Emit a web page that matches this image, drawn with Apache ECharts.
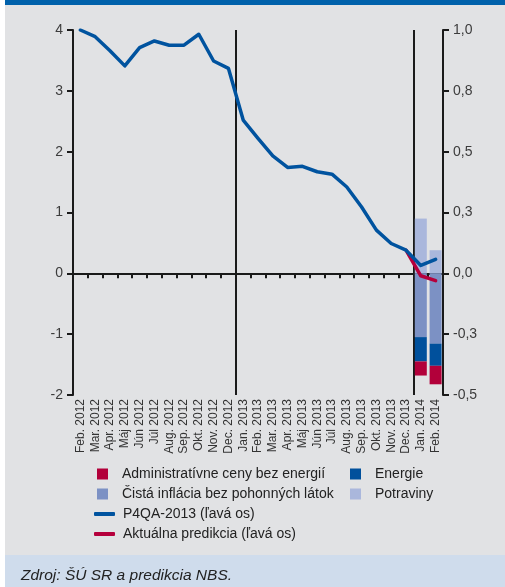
<!DOCTYPE html>
<html>
<head>
<meta charset="utf-8">
<script src="https://cdn.jsdelivr.net/npm/echarts@6/dist/echarts.min.js"></script>
<style>
html,body{margin:0;padding:0;background:#fff;}
#c{width:505px;height:587px;}
</style>
</head>
<body>
<div id="c"></div>
<script>
// ---- data ----
var categories = ['Feb. 2012','Mar. 2012','Apr. 2012','Máj 2012','Jún 2012','Júl 2012','Aug. 2012','Sep. 2012','Okt. 2012','Nov. 2012','Dec. 2012',
  'Jan. 2013','Feb. 2013','Mar. 2013','Apr. 2013','Máj 2013','Jún 2013','Júl 2013','Aug. 2013','Sep. 2013','Okt. 2013','Nov. 2013','Dec. 2013',
  'Jan. 2014','Feb. 2014'];
var p4qa = [4.0,3.89,3.66,3.41,3.71,3.82,3.75,3.75,3.93,3.49,3.37,
  2.52,2.22,1.93,1.74,1.76,1.67,1.63,1.42,1.09,0.71,0.49,0.38,
  0.13,0.23];
var aktualna = [null,null,null,null,null,null,null,null,null,null,null,
  null,null,null,null,null,null,null,null,null,null,null,0.38,
  -0.04,-0.12];
var potraviny = [null,null,null,null,null,null,null,null,null,null,null,null,null,null,null,null,null,null,null,null,null,null,null,0.225,0.095];
var cista = [null,null,null,null,null,null,null,null,null,null,null,null,null,null,null,null,null,null,null,null,null,null,null,-0.262,-0.289];
var energie = [null,null,null,null,null,null,null,null,null,null,null,null,null,null,null,null,null,null,null,null,null,null,null,-0.100,-0.091];
var admin = [null,null,null,null,null,null,null,null,null,null,null,null,null,null,null,null,null,null,null,null,null,null,null,-0.058,-0.076];
var leftTicks = {min:-2, max:4, interval:1};
var rightTicks = {min:-0.5, max:1.0, interval:0.25};
var dividerIdx = [11, 23];

var C_BLUE = '#00539f', C_RED = '#b5003c', C_POT = '#aab7dc', C_CIS = '#7c91c4', C_ENE = '#00509c', C_ADM = '#b2003a';
var AX = '#1a1a1a';
var FONT = 'Liberation Sans';

var chart = echarts.init(document.getElementById('c'), null, {renderer:'canvas'});

function legendItem(name, left, top, isLine){
  return {
    data:[{name:name, icon: isLine ? 'roundRect' : 'rect'}], left:left, top:top, orient:'horizontal', padding:0,
    itemWidth: isLine ? 21 : 11, itemHeight: isLine ? 4 : 11, itemGap:0,
    selectedMode:false,
    textStyle:{fontFamily:FONT, fontSize:14, color:'#222', padding:[0,0,0, isLine ? 3 : 9]}
  };
}

chart.setOption({
  backgroundColor:'#ffffff',
  animation:false,
  graphic:[
    {type:'rect', left:5, top:0, shape:{width:500,height:5}, style:{fill:'#0061ab'}, z:-10},
    {type:'rect', left:5, top:5, shape:{width:500,height:550}, style:{fill:'#e1e2e4'}, z:-10},
    {type:'rect', left:5, top:555, shape:{width:500,height:32}, style:{fill:'#cfdcec'}, z:-10},
    {type:'text', left:21, top:568, style:{text:'Zdroj: ŠÚ SR a predikcia NBS.', font:'italic 15.5px "Liberation Sans"', fill:'#222'}}
  ],
  grid:{left:73, right:62, top:30, bottom:192, containLabel:false},
  legend:[
    legendItem('Administratívne ceny bez energií', 97, 467, false),
    legendItem('Čistá inflácia bez pohonných látok', 97, 487, false),
    legendItem('P4QA-2013 (ľavá os)', 94, 507, true),
    legendItem('Aktuálna predikcia (ľavá os)', 94, 527, true),
    legendItem('Energie', 350, 467, false),
    legendItem('Potraviny', 350, 487, false)
  ],
  xAxis:[
    {
      type:'category', data:categories, boundaryGap:true, position:'bottom',
      axisLine:{show:true, onZero:true, lineStyle:{color:AX, width:2}},
      axisTick:{show:true, inside:false, length:5, interval:0, lineStyle:{color:AX, width:2}},
      axisLabel:{show:false},
      splitLine:{show:true, interval:function(i){ return dividerIdx.indexOf(i) >= 0; }, lineStyle:{color:AX, width:2}}
    },
    {
      type:'category', data:categories, boundaryGap:true, position:'bottom',
      axisLine:{show:false, onZero:false}, axisTick:{show:false},
      splitLine:{show:false},
      axisLabel:{show:true, rotate:90, interval:0, margin:4, fontFamily:FONT, fontSize:12, color:'#333'}
    }
  ],
  yAxis:[
    {
      type:'value', position:'left', min:leftTicks.min, max:leftTicks.max, interval:leftTicks.interval,
      axisLine:{show:true, lineStyle:{color:AX, width:2}},
      axisTick:{show:true, inside:false, length:6, lineStyle:{color:AX, width:2}},
      axisLabel:{margin:10, fontFamily:FONT, fontSize:14, color:'#3c3c3c'},
      splitLine:{show:false}
    },
    {
      type:'value', position:'right', min:rightTicks.min, max:rightTicks.max, interval:rightTicks.interval,
      axisLine:{show:true, lineStyle:{color:AX, width:2}},
      axisTick:{show:true, inside:false, length:6, lineStyle:{color:AX, width:2}},
      axisLabel:{margin:10, fontFamily:FONT, fontSize:14, color:'#3c3c3c',
        formatter:function(v){ return v.toFixed(1).replace('.', ','); }},
      splitLine:{show:false}
    }
  ],
  series:[
    {name:'Potraviny', type:'bar', stack:'s', xAxisIndex:0, yAxisIndex:1, barWidth:12, data:potraviny, itemStyle:{color:C_POT}},
    {name:'Čistá inflácia bez pohonných látok', type:'bar', stack:'s', xAxisIndex:0, yAxisIndex:1, barWidth:12, data:cista, itemStyle:{color:C_CIS}},
    {name:'Energie', type:'bar', stack:'s', xAxisIndex:0, yAxisIndex:1, barWidth:12, data:energie, itemStyle:{color:C_ENE}},
    {name:'Administratívne ceny bez energií', type:'bar', stack:'s', xAxisIndex:0, yAxisIndex:1, barWidth:12, data:admin, itemStyle:{color:C_ADM}},
    {name:'P4QA-2013 (ľavá os)', type:'line', xAxisIndex:0, yAxisIndex:0, data:p4qa, symbol:'none', showSymbol:false,
      lineStyle:{color:C_BLUE, width:3.5, cap:'round', join:'round'}, itemStyle:{color:C_BLUE}, z:4},
    {name:'Aktuálna predikcia (ľavá os)', type:'line', xAxisIndex:0, yAxisIndex:0, data:aktualna, symbol:'none', showSymbol:false,
      lineStyle:{color:C_RED, width:3.5, cap:'round', join:'round'}, itemStyle:{color:C_RED}, z:3}
  ]
});
</script>
</body>
</html>
